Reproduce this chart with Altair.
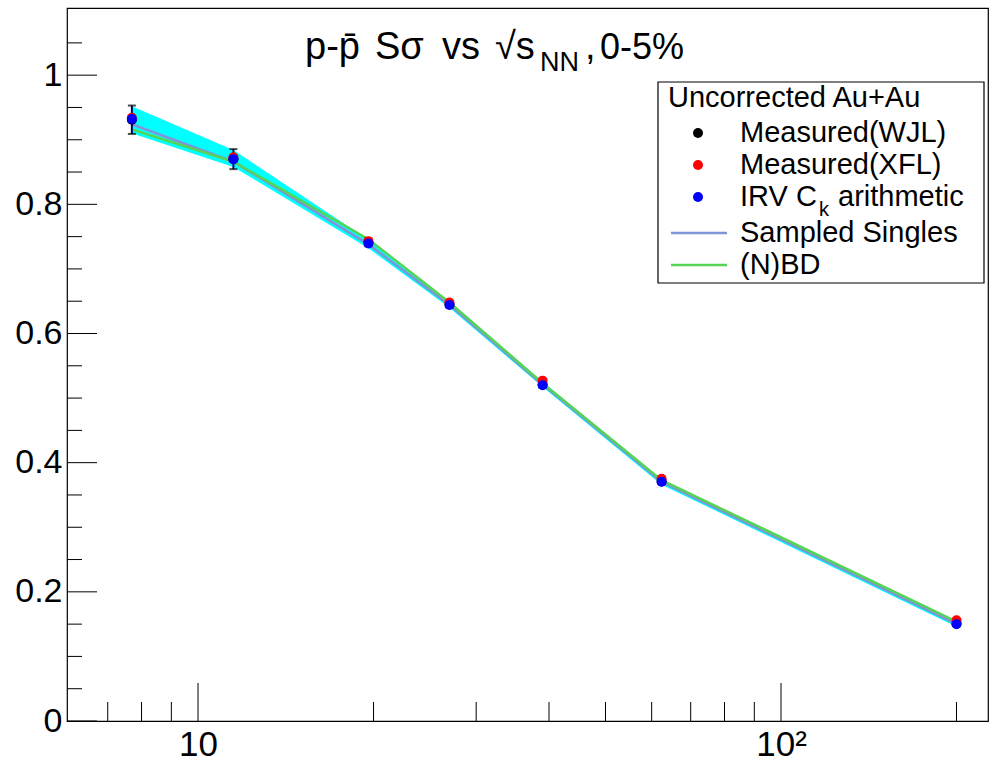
import altair as alt
import pandas as pd

# ---- data ----
energy = [7.7, 11.5, 19.6, 27, 39, 62.4, 200]
wjl = [0.931, 0.870, 0.741, 0.645, 0.521, 0.371, 0.151]
wjl_err = [0.022, 0.0155, 0.006, 0.005, 0.005, 0.004, 0.004]
xfl = [0.934, 0.873, 0.743, 0.648, 0.527, 0.375, 0.156]
irv = [0.932, 0.870, 0.7395, 0.644, 0.520, 0.3705, 0.150]
sampled = [0.924, 0.866, 0.738, 0.644, 0.521, 0.370, 0.150]
sampled_lo = [0.910, 0.858, 0.732, 0.640, 0.517, 0.366, 0.146]
sampled_hi = [0.952, 0.884, 0.745, 0.649, 0.525, 0.374, 0.153]
nbd = [0.916, 0.866, 0.746, 0.648, 0.523, 0.373, 0.154]

y_major = [0, 0.2, 0.4, 0.6, 0.8, 1.0]
y_minor = [0.05, 0.1, 0.15, 0.25, 0.3, 0.35, 0.45, 0.5, 0.55, 0.65, 0.7, 0.75,
           0.85, 0.9, 0.95, 1.05]
x_major = [10, 100]
x_minor = [7, 8, 9, 20, 30, 40, 50, 60, 70, 80, 90, 200]

title_parts = ["p-p\u0304", "S\u03c3", "vs", "\u221as", ",", "0-5%"]
title_sub = "NN"
legend_header = "Uncorrected Au+Au"
legend_labels = ["Measured(WJL)", "Measured(XFL)", "IRV C", "Sampled Singles", "(N)BD"]
legend_sub = "k"
legend_tail = "arithmetic"

C_BAND = "#00ffff"
C_SAMP = "#7f95d8"
C_NBD = "#55d455"
C_BLACK = "#000000"
C_RED = "#ff0000"
C_BLUE = "#0000ff"

W, H = 921, 713
FONT = "Liberation Sans"

df = pd.DataFrame({
    "energy": energy, "wjl": wjl, "err": wjl_err, "xfl": xfl, "irv": irv,
    "samp": sampled, "lo": sampled_lo, "hi": sampled_hi, "nbd": nbd,
})
df["elo"] = df["wjl"] - df["err"]
df["ehi"] = df["wjl"] + df["err"]

xscale = alt.Scale(type="log", domain=[5.96, 226.5], nice=False)
yscale = alt.Scale(domain=[0, 1.104], nice=False, zero=False)

xaxis = alt.Axis(values=x_major, labelExpr="datum.value == 100 ? '10\u00b2' : '10'",
                 ticks=False, domain=False, grid=False, labelFont=FONT,
                 labelFontSize=35, labelPadding=6, labelColor="black",
                 labelFlush=False, labelOverlap=False, title=None)
yaxis = alt.Axis(values=y_major, format="~g", ticks=False, domain=False, grid=False,
                 labelFont=FONT, labelFontSize=34, labelPadding=5, labelColor="black",
                 labelFlush=False, labelOverlap=False, title=None)

X = alt.X("energy:Q", scale=xscale, axis=xaxis)
base = alt.Chart(df)

band = base.mark_area(color=C_BAND, opacity=1).encode(
    x=X, y=alt.Y("lo:Q", scale=yscale, axis=yaxis), y2="hi:Q")
line_s = base.mark_line(color=C_SAMP, strokeWidth=2.5).encode(
    x=X, y=alt.Y("samp:Q", scale=yscale))
line_n = base.mark_line(color=C_NBD, strokeWidth=2.5).encode(
    x=X, y=alt.Y("nbd:Q", scale=yscale))
ebar = base.mark_rule(color="#000070", strokeWidth=2).encode(
    x=X, y=alt.Y("elo:Q", scale=yscale), y2="ehi:Q")
cap_lo = base.mark_tick(color=C_BLACK, orient="horizontal", size=8, thickness=2).encode(
    x=X, y=alt.Y("elo:Q", scale=yscale))
cap_hi = base.mark_tick(color=C_BLACK, orient="horizontal", size=8, thickness=2).encode(
    x=X, y=alt.Y("ehi:Q", scale=yscale))
pt_k = base.mark_circle(color=C_BLACK, opacity=1, size=100).encode(
    x=X, y=alt.Y("wjl:Q", scale=yscale))
pt_r = base.mark_circle(color=C_RED, opacity=1, size=100).encode(
    x=X, y=alt.Y("xfl:Q", scale=yscale))
pt_b = base.mark_circle(color=C_BLUE, opacity=1, size=100).encode(
    x=X, y=alt.Y("irv:Q", scale=yscale))

# inward ticks
ymaj = alt.Chart(pd.DataFrame({"v": y_major})).mark_rule(color="black", strokeWidth=1).encode(
    y=alt.Y("v:Q", scale=yscale), x=alt.value(0), x2=alt.value(30))
ymin = alt.Chart(pd.DataFrame({"v": y_minor})).mark_rule(color="black", strokeWidth=1).encode(
    y=alt.Y("v:Q", scale=yscale), x=alt.value(0), x2=alt.value(15))
xmaj = alt.Chart(pd.DataFrame({"v": x_major})).mark_rule(color="black", strokeWidth=1).encode(
    x=alt.X("v:Q", scale=xscale), y=alt.value(H), y2=alt.value(H - 38))
xmin = alt.Chart(pd.DataFrame({"v": x_minor})).mark_rule(color="black", strokeWidth=1).encode(
    x=alt.X("v:Q", scale=xscale), y=alt.value(H), y2=alt.value(H - 19))

def txt(s, x, y, size=29, font=FONT, baseline="alphabetic"):
    return alt.Chart(pd.DataFrame({"t": [s]})).mark_text(
        align="left", baseline=baseline, font=font, fontSize=size, color="black"
    ).encode(text="t:N", x=alt.value(x), y=alt.value(y))

# title pieces
tx = [238, 308, 375, 428, 518, 533]
title_layers = [txt(s, x, 51, size=s_size) for s, x, s_size in
                zip(title_parts, tx, [38, 38, 38, 38, 38, 36])]
title_layers.append(txt(title_sub, 473, 63, size=27))

# legend
box = alt.Chart(pd.DataFrame({"a": [0]})).mark_rect(
    fill="white", stroke="black", strokeWidth=1.2).encode(
    x=alt.value(591), x2=alt.value(917), y=alt.value(74), y2=alt.value(275))
leg = [box, txt(legend_header, 601, 90, baseline="middle")]
row_y = [125, 157, 189, 225, 257]
for lab, yy in zip(legend_labels, row_y):
    leg.append(txt(lab, 673, yy, baseline="middle"))
leg.append(txt(legend_sub, 752, 202, size=20, baseline="middle"))
leg.append(txt(legend_tail, 771, 189, baseline="middle"))
for c, yy in zip([C_BLACK, C_RED, C_BLUE], row_y[:3]):
    leg.append(alt.Chart(pd.DataFrame({"a": [0]})).mark_circle(color=c, opacity=1, size=100)
               .encode(x=alt.value(631), y=alt.value(yy)))
for c, yy in zip([C_SAMP, C_NBD], row_y[3:]):
    leg.append(alt.Chart(pd.DataFrame({"a": [0]})).mark_rule(color=c, strokeWidth=2.5)
               .encode(x=alt.value(604), x2=alt.value(660), y=alt.value(yy)))

chart = alt.layer(
    band, line_s, line_n, ebar, cap_lo, cap_hi, pt_k, pt_r, pt_b,
    ymaj, ymin, xmaj, xmin, *title_layers, *leg
).properties(
    width=W, height=H, autosize="none",
    padding={"left": 67, "top": 8, "right": 1, "bottom": 52},
    background="white",
).configure_view(stroke="black", strokeWidth=1.2)

chart.save("out.html", embed_options={"renderer": "svg", "actions": False})
